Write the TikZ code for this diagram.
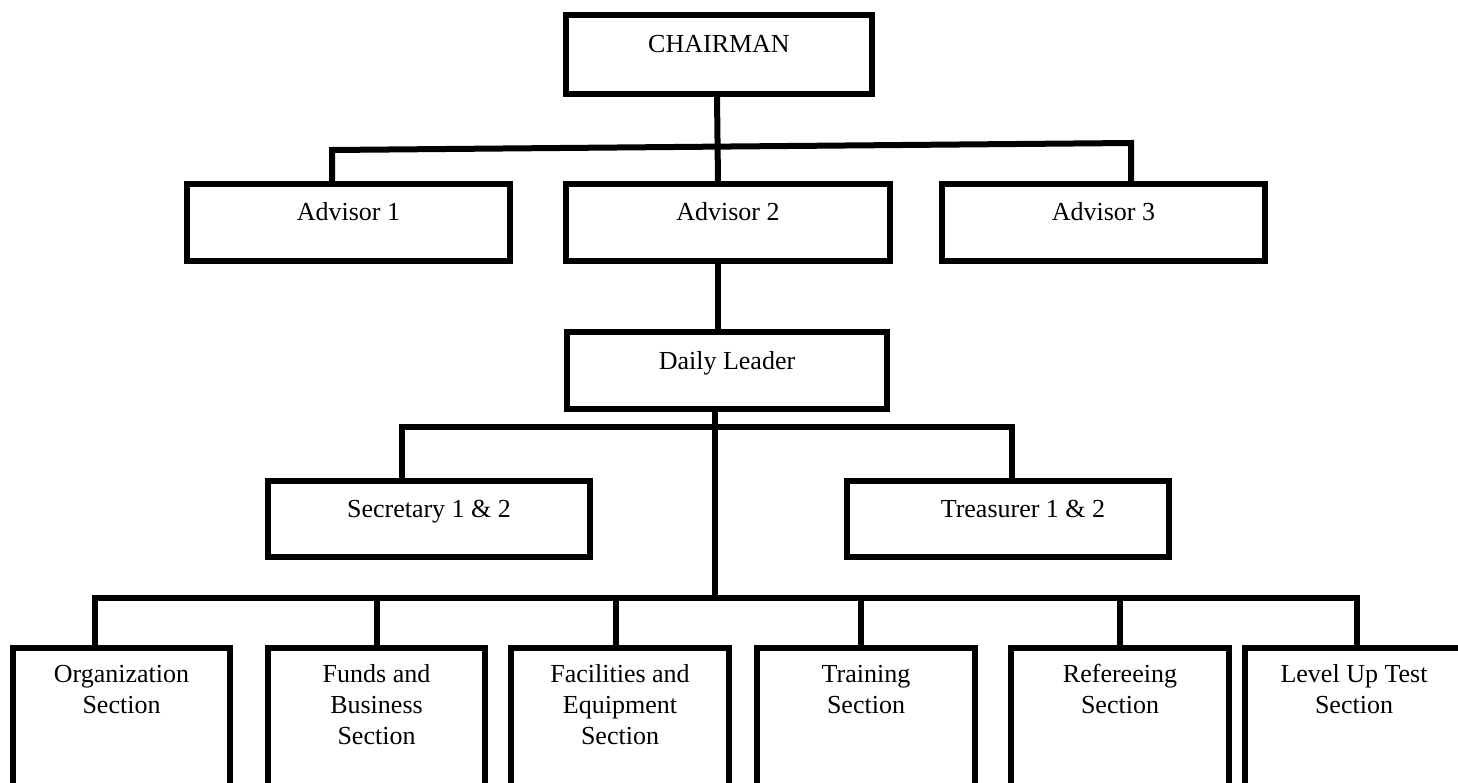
\documentclass[tikz,border=0pt]{standalone}
\usepackage{fontspec}
\setmainfont{Liberation Serif}
\begin{document}
\begin{tikzpicture}[x=1pt,y=-1pt,
  orgbox/.style={draw, line width=6pt, rectangle, inner sep=0pt, line join=miter},
  lbl/.style={anchor=north, inner sep=0pt, align=center, font=\fontsize{26}{31}\selectfont},
  conn/.style={line width=6pt, line join=miter}]
\clip (0,0) rectangle (1458,783);
% top
\node[orgbox, minimum width=306pt, minimum height=79pt,
  label={[lbl,yshift=-18.3pt]north:\strut CHAIRMAN}] (ch) at (719,54.5) {};
% advisors
\node[orgbox, minimum width=323pt, minimum height=76.5pt,
  label={[lbl,yshift=-16.8pt]north:\strut Advisor 1}] (a1) at (348.5,222.75) {};
\node[orgbox, minimum width=324pt, minimum height=76.5pt,
  label={[lbl,yshift=-16.8pt]north:\strut Advisor 2}] (a2) at (728,222.75) {};
\node[orgbox, minimum width=323pt, minimum height=76.5pt,
  label={[lbl,yshift=-16.8pt]north:\strut Advisor 3}] (a3) at (1103.5,222.75) {};
% daily leader
\node[orgbox, minimum width=320pt, minimum height=77pt,
  label={[lbl,yshift=-18.3pt]north:\strut Daily Leader}] (dl) at (727,370.5) {};
% secretary / treasurer
\node[orgbox, minimum width=322pt, minimum height=76pt,
  label={[lbl,yshift=-17.3pt]north:\strut Secretary 1 \& 2}] (sec) at (429,519) {};
\node[orgbox, minimum width=322pt, minimum height=76pt,
  label={[lbl,yshift=-17.3pt,xshift=15pt]north:\strut Treasurer 1 \& 2}] (tr) at (1008,519) {};
% sections
\node[orgbox, minimum width=217pt, minimum height=182pt,
  label={[lbl,yshift=-15.3pt]north:{\strut Organization\\Section}}] (o1) at (121.5,739) {};
\node[orgbox, minimum width=217pt, minimum height=182pt,
  label={[lbl,yshift=-15.3pt]north:{\strut Funds and\\Business\\Section}}] (o2) at (376.5,739) {};
\node[orgbox, minimum width=218pt, minimum height=182pt,
  label={[lbl,yshift=-15.3pt]north:{\strut Facilities and\\Equipment\\Section}}] (o3) at (620,739) {};
\node[orgbox, minimum width=218pt, minimum height=182pt,
  label={[lbl,yshift=-15.3pt]north:{\strut Training\\Section}}] (o4) at (866,739) {};
\node[orgbox, minimum width=218pt, minimum height=182pt,
  label={[lbl,yshift=-15.3pt]north:{\strut Refereeing\\Section}}] (o5) at (1120,739) {};
\node[orgbox, minimum width=218pt, minimum height=182pt,
  label={[lbl,yshift=-15.3pt]north:{\strut Level Up Test\\Section}}] (o6) at (1354,739) {};
% connectors
\coordinate (t1) at (332,150);
\coordinate (t3) at (1131,143);
\draw[conn] ([xshift=-2pt]ch.south) -- ([xshift=-10pt]a2.north);
\draw[conn] (a1.north -| t1) -- (t1) -- (t3) -- (a3.north -| t3);
\draw[conn] ([xshift=-10pt]a2.south) -- ([xshift=-9pt]dl.north);
\coordinate (s1) at (402,427);
\coordinate (s2) at (1012,427);
\draw[conn] (sec.north -| s1) -- (s1) -- (s2) -- (tr.north -| s2);
\coordinate (m) at (715,598);
\draw[conn] ([xshift=-12pt]dl.south) -- (m);
\coordinate (b1) at (95,598);
\coordinate (b6) at (1357,598);
\draw[conn] (o1.north -| b1) -- (b1) -- (b6) -- (o6.north -| b6);
\draw[conn] (o2.north) -- (o2.north |- b1);
\draw[conn] ([xshift=-4pt]o3.north) -- ([xshift=-4pt]o3.north |- b1);
\draw[conn] ([xshift=-5pt]o4.north) -- ([xshift=-5pt]o4.north |- b1);
\draw[conn] (o5.north) -- (o5.north |- b1);
\end{tikzpicture}
\end{document}
